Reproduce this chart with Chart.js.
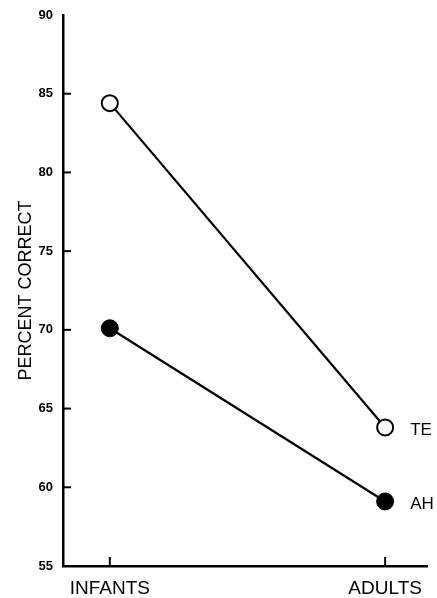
<!DOCTYPE html>
<html>
<head>
<meta charset="utf-8">
<script src="https://cdn.jsdelivr.net/npm/chart.js@4"></script>
<style>
html,body{margin:0;padding:0;background:#fff;}
#wrap{width:437px;height:598px;}
</style>
</head>
<body>
<div id="wrap"><canvas id="c" width="437" height="598"></canvas></div>
<script>
const categories = ["INFANTS", "ADULTS"];
const teValues = [84.4, 63.8];
const ahValues = [70.1, 59.1];
const seriesLabels = ["TE", "AH"];
const yTicks = [55, 60, 65, 70, 75, 80, 85, 90];

const FONT = "'Liberation Sans', Arial, Helvetica, sans-serif";

const innerTicks = {
  id: 'innerTicks',
  afterDraw(chart) {
    const ctx = chart.ctx;
    const ys = chart.scales.y, xs = chart.scales.x;
    const area = chart.chartArea;
    ctx.save();
    ctx.strokeStyle = '#000';
    ctx.lineWidth = 2;
    yTicks.forEach(v => {
      if (v === 55 || v === 90) return;
      const py = ys.getPixelForValue(v);
      ctx.beginPath();
      ctx.moveTo(area.left, py);
      ctx.lineTo(area.left + 8, py);
      ctx.stroke();
    });
    categories.forEach((c, i) => {
      const px = xs.getPixelForValue(i);
      ctx.beginPath();
      ctx.moveTo(px, area.bottom);
      ctx.lineTo(px, area.bottom - 9);
      ctx.stroke();
    });
    // series end labels
    ctx.fillStyle = '#000';
    ctx.font = "17px " + FONT;
    ctx.textBaseline = 'middle';
    ctx.textAlign = 'left';
    chart.data.datasets.forEach((ds, di) => {
      const meta = chart.getDatasetMeta(di);
      const last = meta.data[meta.data.length - 1];
      ctx.fillText(seriesLabels[di], last.x + 25, last.y + 3);
    });
    ctx.restore();
  }
};

new Chart(document.getElementById('c'), {
  type: 'line',
  data: {
    datasets: [
      {
        label: seriesLabels[0],
        data: categories.map((c, i) => ({x: i, y: teValues[i]})),
        borderColor: '#000',
        borderWidth: 2.2,
        pointRadius: 8,
        pointBorderWidth: 2,
        pointBackgroundColor: '#fff',
        pointBorderColor: '#000',
        tension: 0
      },
      {
        label: seriesLabels[1],
        data: categories.map((c, i) => ({x: i, y: ahValues[i]})),
        borderColor: '#000',
        borderWidth: 2.2,
        pointRadius: 8.5,
        pointBorderWidth: 1,
        pointBackgroundColor: '#000',
        pointBorderColor: '#000',
        tension: 0
      }
    ]
  },
  options: {
    responsive: false,
    animation: false,
    layout: {padding: {top: 15, right: 9, left: 0, bottom: 0}},
    plugins: {legend: {display: false}, tooltip: {enabled: false}},
    scales: {
      x: {
        type: 'linear',
        min: -0.17,
        max: 1.152,
        afterBuildTicks(scale) { scale.ticks = categories.map((c, i) => ({value: i})); },
        afterFit(scale) { scale.height = 32; },
        ticks: {
          callback: (v) => categories[v],
          color: '#000',
          font: {family: FONT, size: 19},
          padding: 3,
          maxRotation: 0,
          autoSkip: false
        },
        grid: {display: false},
        border: {display: true, color: '#000', width: 2.5}
      },
      y: {
        min: 55,
        max: 90,
        afterBuildTicks(scale) { scale.ticks = yTicks.map(v => ({value: v})); },
        afterFit(scale) { scale.width = 63; },
        ticks: {
          color: '#000',
          font: {family: FONT, size: 13, weight: 'bold'},
          padding: 2
        },
        grid: {display: false},
        border: {display: true, color: '#000', width: 2.5},
        title: {
          display: true,
          text: 'PERCENT CORRECT',
          color: '#000',
          font: {family: FONT, size: 18},
          padding: {top: 15, bottom: 0}
        }
      }
    }
  },
  plugins: [innerTicks]
});
</script>
</body>
</html>
